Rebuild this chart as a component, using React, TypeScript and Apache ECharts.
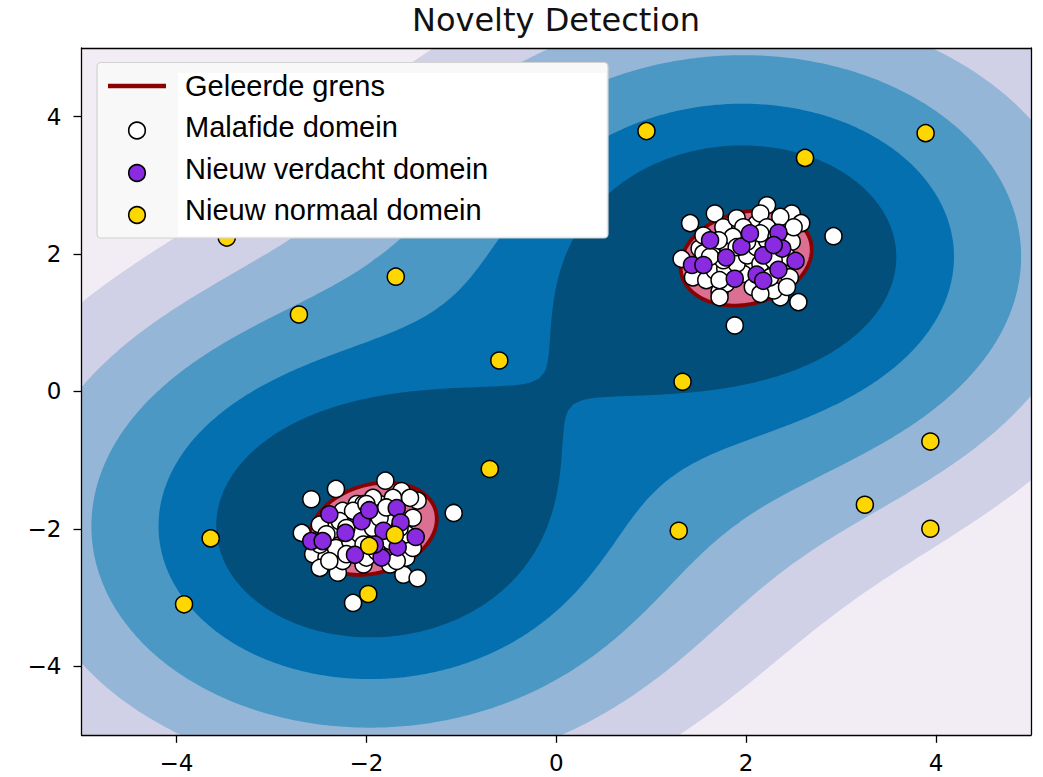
import React, { useEffect, useRef } from "react";
import * as echarts from "echarts";

// ---------- data ----------
const TITLE = "Novelty Detection";
const X_RANGE: [number, number] = [-5, 5];
const Y_RANGE: [number, number] = [-5, 5];
const X_TICK_VALUES = [-4, -2, 0, 2, 4];
const Y_TICK_VALUES = [-4, -2, 0, 2, 4];

const LEGEND_NAMES = ["Geleerde grens", "Malafide domein", "Nieuw verdacht domein", "Nieuw normaal domein"];

// white training points ("Malafide domein")
const TRAIN_POINTS: [number, number][] = [
  [1.41, 2.45], [1.67, 2.59], [2.22, 2.71], [2.48, 2.59], [2.58, 2.45], [2.92, 2.26], [1.32, 1.93],
  [1.44, 1.66], [1.72, 1.45], [2.55, 1.3], [1.88, 0.96], [2.36, 1.37], [2.29, 1.47], [2.48, 2.18],
  [1.76, 2.39], [1.9, 2.52], [2.11, 2.44], [2.36, 2.54], [1.51, 2.08], [1.65, 1.98], [1.79, 2.15],
  [2.01, 1.86], [1.97, 1.71], [1.79, 1.57], [1.62, 1.74], [2.25, 1.81], [2.46, 1.66],
  [2.43, 1.52], [2.07, 1.52], [2.15, 2.59], [1.97, 2.39], [2.22, 2.39], [2.5, 2.39], [1.72, 1.37],
  [2.15, 1.42], [1.55, 2.27],
  [1.58, 1.62], [1.67, 1.76], [1.78, 1.79], [1.9, 1.86], [2.01, 1.98], [2.11, 2.1], [2.15, 1.86],
  [2.25, 1.66], [2.43, 1.96], [2.01, 2.18], [1.86, 2.25], [1.71, 2.2],
  [1.55, 2.01], [2.22, 2.2], [1.72, 1.62],
  [2.29, 1.91], [1.9, 2.1], [2.15, 2.3], [1.76, 1.91], [2.32, 2.25], [1.62, 1.96],
  [-2.58, -1.57], [-2.32, -1.42], [-1.8, -1.3], [-1.63, -1.45], [-1.46, -1.59], [-1.08, -1.77],
  [-2.68, -2.06], [-2.56, -2.37], [-2.3, -2.64], [-1.61, -2.67], [-1.46, -2.72], [-2.14, -3.08],
  [-2.25, -1.74], [-2.1, -1.64], [-1.86, -1.64], [-1.51, -1.84], [-2.35, -2.01], [-2.21, -2.23],
  [-2.35, -2.28], [-2.42, -2.42], [-2.25, -2.47], [-2.03, -2.52], [-1.75, -2.52], [-1.58, -2.42],
  [-1.51, -2.28], [-2.0, -1.99], [-1.75, -1.84], [-2.1, -2.18], [-2.49, -1.94], [-2.03, -1.64],
  [-1.93, -1.55], [-1.54, -1.55], [-1.72, -1.55], [-2.49, -2.57],
  [-2.42, -2.08], [-2.32, -2.28], [-2.17, -2.18], [-2.07, -2.08], [-1.93, -1.99], [-1.86, -1.84],
  [-1.75, -2.18], [-1.58, -2.08], [-2.0, -2.42], [-2.21, -2.37], [-2.39, -2.47],
  [-1.68, -2.47], [-2.14, -1.74], [-2.28, -1.89], [-2.0, -1.64], [-1.79, -1.69],
  [-2.49, -2.23], [-2.21, -1.99], [-1.65, -1.99],
  [-2.03, -2.23], [-1.89, -2.33],
];

// purple test points ("Nieuw verdacht domein")
const TEST_POINTS: [number, number][] = [
  [1.62, 2.2], [1.43, 1.84], [1.55, 1.84], [1.79, 1.95], [1.95, 2.11], [2.04, 2.3], [2.18, 1.98],
  [2.34, 2.31], [2.38, 2.08], [2.52, 1.9], [2.34, 1.77], [2.11, 1.7], [2.18, 1.61], [1.88, 1.64],
  [2.29, 2.13],
  [-2.39, -1.79], [-2.58, -2.18], [-2.46, -2.18], [-2.22, -2.06], [-2.05, -1.89], [-1.97, -1.73],
  [-1.68, -1.7], [-1.64, -1.91], [-1.48, -2.12], [-1.82, -2.03], [-2.12, -2.38], [-1.84, -2.42],
  [-1.67, -2.27], [-1.91, -2.23],
];

// gold points ("Nieuw normaal domein")
const NOVEL_POINTS: [number, number][] = [
  [-3.47, 2.24], [-1.69, 1.67], [-2.71, 1.12], [-0.6, 0.45], [0.95, 3.79], [2.62, 3.4], [3.89, 3.76],
  [1.33, 0.14], [-0.7, -1.13], [3.94, -0.73], [3.25, -1.65], [3.94, -2.0], [1.29, -2.03],
  [-3.64, -2.14], [-3.92, -3.1], [-1.98, -2.95], [-1.97, -2.25], [-1.7, -2.09],
];

// learned boundary ("Geleerde grens"): one tilted ellipse per cluster
const BOUNDARY_CENTERS: [number, number][] = [[2.0, 1.94], [-1.93, -2.0]];
const BOUNDARY_SEMI_AXES: [number, number][] = [[0.75, 0.625], [0.74, 0.595]];
const BOUNDARY_ANGLES_DEG = [45, 45];

const CLUSTER_CENTERS: [number, number][] = [[2, 2], [-2, -2]];
const KERNEL_SCALE = 0.24;
const KERNEL_POWER = 1.5;
const BAND_LEVELS = [0.116, 0.198, 0.311, 0.468, 0.634];
const BAND_COLORS = ["#f2ecf5", "#d0d1e6", "#95b6d7", "#4b98c5", "#0570b0", "#034f7b"];

// ---------- helpers ----------
type P = [number, number];

function field(x: number, y: number): number {
  let s = 0;
  for (const c of CLUSTER_CENTERS) {
    const d = Math.hypot(x - c[0], y - c[1]);
    s += Math.exp(-KERNEL_SCALE * Math.pow(d, KERNEL_POWER));
  }
  return s;
}

function traceHalf(level: number, ci: number, cj: number, n = 480): P[] {
  const [cx, cy] = CLUSTER_CENTERS[ci];
  const [ox, oy] = CLUSTER_CENTERS[cj];
  const dx = cx - ox, dy = cy - oy;
  const dist = Math.hypot(dx, dy);
  const nx = dx / dist, ny = dy / dist, h = dist / 2;
  const eps = 0.03;
  const pts: P[] = [];
  for (let k = 0; k < n; k++) {
    const th = (2 * Math.PI * k) / n;
    const ux = Math.cos(th), uy = Math.sin(th);
    let tmax = 16;
    const nd = nx * ux + ny * uy;
    if (nd < 0) tmax = Math.min(tmax, (h + eps) / -nd);
    let t = 0;
    const step = 0.05;
    while (t < tmax) {
      const tn = Math.min(t + step, tmax);
      if (field(cx + ux * tn, cy + uy * tn) < level) {
        let a = t, b = tn;
        for (let it = 0; it < 22; it++) {
          const m = (a + b) / 2;
          if (field(cx + ux * m, cy + uy * m) >= level) a = m; else b = m;
        }
        t = (a + b) / 2;
        break;
      }
      t = tn;
    }
    pts.push([cx + ux * t, cy + uy * t]);
  }
  return pts;
}

function clipEdge(pts: P[], axis: 0 | 1, val: number, keepGE: boolean): P[] {
  const out: P[] = [];
  const n = pts.length;
  const inside = (p: P) => (keepGE ? p[axis] >= val : p[axis] <= val);
  const cross = (a: P, b: P): P => {
    const t = (val - a[axis]) / (b[axis] - a[axis]);
    return [a[0] + t * (b[0] - a[0]), a[1] + t * (b[1] - a[1])];
  };
  for (let i = 0; i < n; i++) {
    const cur = pts[i], prev = pts[(i + n - 1) % n];
    const ic = inside(cur), ip = inside(prev);
    if (ic) {
      if (!ip) out.push(cross(prev, cur));
      out.push(cur);
    } else if (ip) out.push(cross(prev, cur));
  }
  return out;
}

function clipToPlot(pts: P[]): P[] {
  let r = pts;
  r = clipEdge(r, 0, X_RANGE[0], true);
  if (r.length) r = clipEdge(r, 0, X_RANGE[1], false);
  if (r.length) r = clipEdge(r, 1, Y_RANGE[0], true);
  if (r.length) r = clipEdge(r, 1, Y_RANGE[1], false);
  return r;
}

function ellipseLoop(i: number, n = 240): P[] {
  const [cx, cy] = BOUNDARY_CENTERS[i];
  const [a, b] = BOUNDARY_SEMI_AXES[i];
  const ang = (BOUNDARY_ANGLES_DEG[i] * Math.PI) / 180;
  const ca = Math.cos(ang), sa = Math.sin(ang);
  const pts: P[] = [];
  for (let k = 0; k < n; k++) {
    const t = (2 * Math.PI * k) / n;
    const u = a * Math.cos(t), v = b * Math.sin(t);
    pts.push([cx + u * ca - v * sa, cy + u * sa + v * ca]);
  }
  return pts;
}

const plotRect: P[] = [
  [X_RANGE[0], Y_RANGE[0]], [X_RANGE[1], Y_RANGE[0]], [X_RANGE[1], Y_RANGE[1]], [X_RANGE[0], Y_RANGE[1]],
];

const bandPolys: P[][][] = BAND_COLORS.map((_, i) =>
  i === 0
    ? [plotRect]
    : [clipToPlot(traceHalf(BAND_LEVELS[i - 1], 0, 1)), clipToPlot(traceHalf(BAND_LEVELS[i - 1], 1, 0))]
);
const boundaryLoops: P[][] = BOUNDARY_CENTERS.map((_, i) => ellipseLoop(i));

const minus = (v: number) => (v < 0 ? "\u2212" + Math.abs(v) : String(v));

export default function App() {
  const ref = useRef<HTMLDivElement>(null);
  useEffect(() => {
    if (!ref.current) return;
    const chart = echarts.init(ref.current, undefined, { renderer: "svg" });
    const axisLine = { show: true, onZero: false, lineStyle: { color: "#000", width: 1.3 } };
    const tickFont = { fontSize: 23, fontFamily: "DejaVu Sans", color: "#000" };
    const legendRows = [86, 127, 168.5, 210];
    const legendMarks = [86, 130.5, 173, 215];
    const markerFill = ["", "#ffffff", "#8a2be2", "#ffd700"];
    const graphic: any[] = [
      {
        type: "text", x: 556, y: 20, z: 100,
        style: { text: TITLE, font: "32px 'DejaVu Sans'", fill: "#111", textAlign: "center", textVerticalAlign: "middle" },
      },
      {
        type: "rect", z: 100, shape: { x: 97, y: 62.5, width: 511, height: 175.5, r: 4 },
        style: { fill: "#f8f8f8", stroke: "#d2d2d2", lineWidth: 1.2 },
      },
      {
        type: "rect", z: 100, z2: 1, shape: { x: 178, y: 73, width: 428, height: 163 },
        style: { fill: "#ffffff" },
      },
      {
        type: "line", z: 100, z2: 2, shape: { x1: 108, y1: legendMarks[0], x2: 166, y2: legendMarks[0] },
        style: { stroke: "#8b0000", lineWidth: 4.5 },
      },
    ];
    for (let i = 1; i < 4; i++) {
      graphic.push({
        type: "circle", z: 100, z2: 2, shape: { cx: 137, cy: legendMarks[i], r: 8.3 },
        style: { fill: markerFill[i], stroke: "#000", lineWidth: 1.6 },
      });
    }
    LEGEND_NAMES.forEach((name, i) => {
      graphic.push({
        type: "text", z: 100, z2: 3, x: 185, y: legendRows[i],
        style: { text: name, font: "29px 'Liberation Sans'", fill: "#000", textVerticalAlign: "middle" },
      });
    });

    chart.setOption({
      animation: false,
      backgroundColor: "#ffffff",
      grid: { left: 81.5, top: 48, width: 949.5, height: 686.8, outerBoundsMode: "none" },
      xAxis: [
        {
          type: "value", min: X_RANGE[0], max: X_RANGE[1], position: "bottom", z: 10,
          axisLine, splitLine: { show: false },
          axisTick: { show: true, length: 8, lineStyle: { color: "#000", width: 1.3 }, customValues: X_TICK_VALUES },
          axisLabel: { ...tickFont, margin: 17, customValues: X_TICK_VALUES, formatter: minus },
        },
        {
          type: "value", min: X_RANGE[0], max: X_RANGE[1], position: "top", z: 10,
          axisLine, splitLine: { show: false }, axisTick: { show: false }, axisLabel: { show: false },
        },
      ],
      yAxis: [
        {
          type: "value", min: Y_RANGE[0], max: Y_RANGE[1], position: "left", z: 10,
          axisLine, splitLine: { show: false },
          axisTick: { show: true, length: 8, lineStyle: { color: "#000", width: 1.3 }, customValues: Y_TICK_VALUES },
          axisLabel: { ...tickFont, margin: 20, customValues: Y_TICK_VALUES, formatter: minus },
        },
        {
          type: "value", min: Y_RANGE[0], max: Y_RANGE[1], position: "right", z: 10,
          axisLine, splitLine: { show: false }, axisTick: { show: false }, axisLabel: { show: false },
        },
      ],
      graphic,
      series: [
        {
          type: "custom", name: "bands", silent: true, z: 1,
          data: BAND_COLORS.map((_, i) => [i, 0]),
          renderItem: (params: any, api: any) => {
            const i = params.dataIndex;
            return {
              type: "group",
              children: bandPolys[i]
                .filter((p) => p.length > 2)
                .map((p) => ({
                  type: "polygon", z2: i,
                  shape: { points: p.map((q) => api.coord(q)) },
                  style: { fill: BAND_COLORS[i] },
                })),
            };
          },
        },
        {
          type: "custom", name: LEGEND_NAMES[0], silent: true, z: 2,
          data: BOUNDARY_CENTERS.map((c) => [c[0], c[1]]),
          renderItem: (params: any, api: any) => {
            const loop = boundaryLoops[params.dataIndex];
            return {
              type: "polygon",
              shape: { points: loop.map((q) => api.coord(q)) },
              style: { fill: "#db7093", stroke: "#8b0000", lineWidth: 3.8 },
            };
          },
        },
        {
          type: "scatter", name: LEGEND_NAMES[1], z: 3, data: TRAIN_POINTS, symbol: "circle", symbolSize: 17,
          itemStyle: { color: "#ffffff", borderColor: "#000", borderWidth: 1.5, opacity: 1 },
        },
        {
          type: "scatter", name: LEGEND_NAMES[2], z: 4, data: TEST_POINTS, symbol: "circle", symbolSize: 17,
          itemStyle: { color: "#8a2be2", borderColor: "#000", borderWidth: 1.5, opacity: 1 },
        },
        {
          type: "scatter", name: LEGEND_NAMES[3], z: 5, data: NOVEL_POINTS, symbol: "circle", symbolSize: 17,
          itemStyle: { color: "#ffd700", borderColor: "#000", borderWidth: 1.5, opacity: 1 },
        },
      ],
    });
    return () => chart.dispose();
  }, []);
  return (
    <div
      ref={ref}
      style={{ position: "fixed", left: 0, top: 0, width: 1043, height: 777, background: "#fff" }}
    />
  );
}
